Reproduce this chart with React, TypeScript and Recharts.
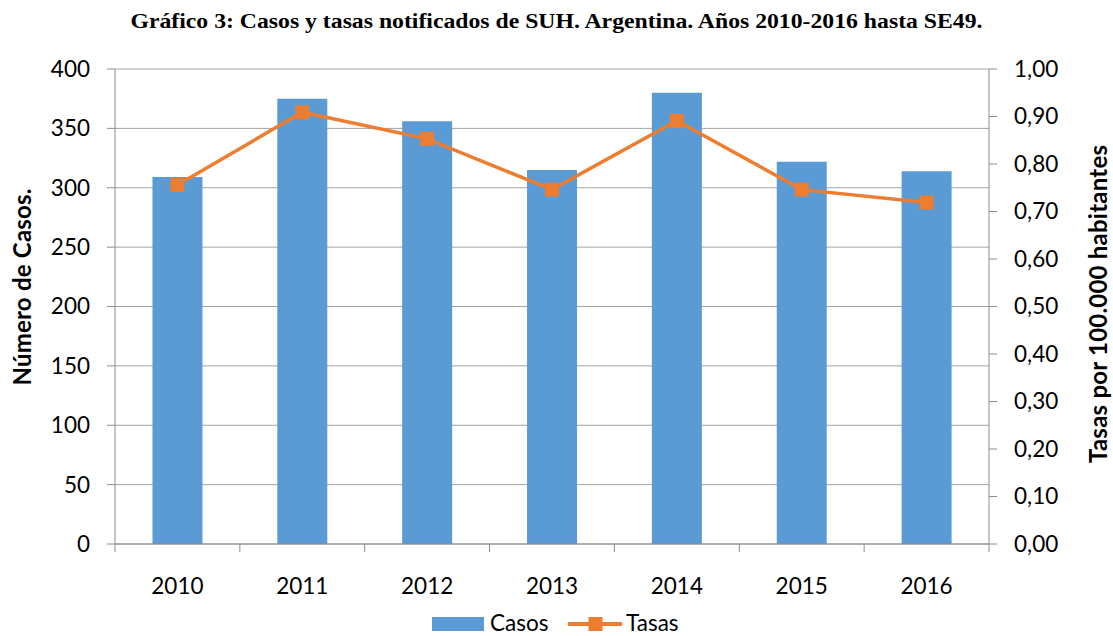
import React from 'react';
import { ComposedChart, Bar, Line, XAxis, YAxis, CartesianGrid } from 'recharts';

const YEARS = ['2010', '2011', '2012', '2013', '2014', '2015', '2016'];
const CASOS = [309, 375, 356, 315, 380, 322, 314];
const TASAS = [0.756, 0.909, 0.853, 0.746, 0.891, 0.746, 0.719];
const CASOS_TICKS = [0, 50, 100, 150, 200, 250, 300, 350, 400];
const TASAS_TICKS = [0, 0.1, 0.2, 0.3, 0.4, 0.5, 0.6, 0.7, 0.8, 0.9, 1.0];
const TITLE = 'Gráfico 3: Casos y tasas notificados de SUH. Argentina. Años 2010-2016 hasta SE49.';
const LEFT_TITLE = 'Número de Casos.';
const RIGHT_TITLE = 'Tasas por 100.000 habitantes';
const LEGEND_NAMES = ['Casos', 'Tasas'];

const BLUE = '#5B9BD5';
const ORANGE = '#ED7D31';
const AXIS = '#8C8C8C';
const GRID = '#A3A3A3';
const FONT = 'Lato, "Open Sans", sans-serif';

const data = YEARS.map((year, i) => ({ year, casos: CASOS[i], tasas: TASAS[i] }));

const fmtRate = (v: number) => v.toFixed(2).replace('.', ',');

const XTick = (props: any) => {
  const { x, y, payload, index, visibleTicksCount, width } = props;
  const half =
    payload && typeof payload.offset === 'number' && payload.offset > 0
      ? payload.offset
      : width / YEARS.length / 2;
  return (
    <g>
      <line x1={x - half} x2={x - half} y1={y} y2={y + 8} stroke={AXIS} strokeWidth={1} />
      {index === visibleTicksCount - 1 && (
        <line x1={x + half} x2={x + half} y1={y} y2={y + 8} stroke={AXIS} strokeWidth={1} />
      )}
      <text x={x} y={y + 50} textAnchor="middle" fontFamily={FONT} fontSize={22.5} fill="#000">
        {payload.value}
      </text>
    </g>
  );
};

const SquareDot = (p: any) => {
  if (p.cx == null || p.cy == null) return <g key={p.index} />;
  return <rect key={p.index} x={p.cx - 7} y={p.cy - 7} width={14} height={14} fill={ORANGE} />;
};

export default function App() {
  return (
    <div style={{ position: 'absolute', left: 0, top: 0, width: 1113, height: 636, background: '#fff' }}>
      <ComposedChart
        width={1113}
        height={636}
        data={data}
        margin={{ top: 69, right: 0, bottom: 42, left: 0 }}
        barCategoryGap="30%"
      >
        <CartesianGrid yAxisId="left" vertical={false} stroke={GRID} strokeWidth={1} />
        <XAxis
          dataKey="year"
          yAxisId="left"
          height={50}
          tickLine={false}
          tickSize={0}
          tickMargin={0}
          axisLine={{ stroke: AXIS, strokeWidth: 1 }}
          tick={<XTick />}
          interval={0}
        />
        <YAxis
          yAxisId="left"
          orientation="left"
          width={115}
          domain={[0, 400]}
          ticks={CASOS_TICKS}
          interval={0}
          tickSize={8}
          tickMargin={17}
          tickLine={{ stroke: AXIS }}
          axisLine={{ stroke: AXIS, strokeWidth: 1 }}
          tick={{ fontFamily: FONT, fontSize: 22.5, fill: '#000' }}
        />
        <YAxis
          yAxisId="right"
          orientation="right"
          width={124}
          domain={[0, 1]}
          ticks={TASAS_TICKS}
          interval={0}
          tickSize={8}
          tickMargin={17}
          tickFormatter={fmtRate}
          tickLine={{ stroke: AXIS }}
          axisLine={{ stroke: AXIS, strokeWidth: 1 }}
          tick={{ fontFamily: FONT, fontSize: 22.5, fill: '#000', textAnchor: 'start' }}
        />
        <Bar yAxisId="left" dataKey="casos" fill={BLUE} isAnimationActive={false} />
        <Line
          yAxisId="right"
          type="linear"
          dataKey="tasas"
          stroke={ORANGE}
          strokeWidth={3.5}
          dot={SquareDot}
          activeDot={false}
          isAnimationActive={false}
        />
      </ComposedChart>
      <svg
        width={1113}
        height={636}
        style={{ position: 'absolute', left: 0, top: 0, pointerEvents: 'none' }}
      >
        <text
          x={556.5}
          y={28}
          textAnchor="middle"
          fontFamily='"Liberation Serif", "Times New Roman", serif'
          fontWeight="bold"
          fontSize={22}
          textLength={852}
          lengthAdjust="spacingAndGlyphs"
          fill="#000"
        >
          {TITLE}
        </text>
        <text
          x={30.7}
          y={287}
          transform="rotate(-90, 30.7, 287)"
          textAnchor="middle"
          fontFamily={FONT}
          fontWeight="bold"
          fontSize={24}
          textLength={197}
          fill="#000"
        >
          {LEFT_TITLE}
        </text>
        <text
          x={1107}
          y={304}
          transform="rotate(-90, 1107, 304)"
          textAnchor="middle"
          fontFamily={FONT}
          fontWeight="bold"
          fontSize={24}
          textLength={318}
          fill="#000"
        >
          {RIGHT_TITLE}
        </text>
        <rect x={432} y={617} width={52} height={14} fill={BLUE} />
        <text x={490} y={630.5} fontFamily={FONT} fontSize={22.5} fill="#000">
          {LEGEND_NAMES[0]}
        </text>
        <line x1={568} x2={622} y1={624} y2={624} stroke={ORANGE} strokeWidth={4} />
        <rect x={588.5} y={617} width={14} height={14} fill={ORANGE} />
        <text x={626} y={630.5} fontFamily={FONT} fontSize={22.5} fill="#000">
          {LEGEND_NAMES[1]}
        </text>
      </svg>
    </div>
  );
}
